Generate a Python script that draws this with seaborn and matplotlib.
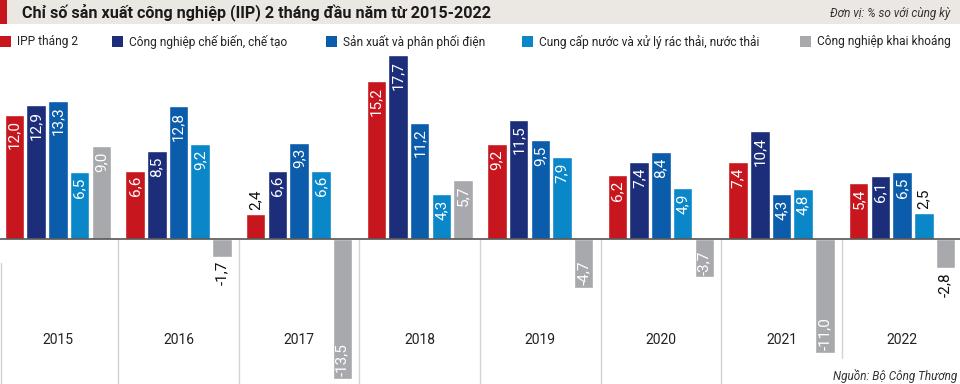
import pandas as pd
import matplotlib.pyplot as plt
import seaborn as sns
from matplotlib.patches import Rectangle

##### Data ###################################################################

years = ['2015', '2016', '2017', '2018', '2019', '2020', '2021', '2022']
series = ['IPP tháng 2', 'Công nghiệp chế biến, chế tạo', 'Sản xuất và phân phối điện',
          'Cung cấp nước và xử lý rác thải, nước thải', 'Công nghiệp khai khoáng']
ipp = [12.0, 6.6, 2.4, 15.2, 9.2, 6.2, 7.4, 5.4]
che_bien = [12.9, 8.5, 6.6, 17.7, 11.5, 7.4, 10.4, 6.1]
dien = [13.3, 12.8, 9.3, 11.2, 9.5, 8.4, 4.3, 6.5]
nuoc = [6.5, 9.2, 6.6, 4.3, 7.9, 4.9, 4.8, 2.5]
khai_khoang = [9.0, -1.7, -13.5, 5.7, -4.7, -3.7, -11.0, -2.8]
colors = ['#c8161e', '#1c2e7a', '#0b5cab', '#0a87c9', '#a8a9ac']

values = [ipp, che_bien, dien, nuoc, khai_khoang]
df = pd.DataFrame({
    'Năm': [y for _ in series for y in years],
    'Nhóm': [s for s in series for _ in years],
    'Giá trị': [v for vals in values for v in vals],
})

##### Plot ###################################################################

sns.set_style('white')
plt.rcParams['font.family'] = ['Roboto', 'DejaVu Sans']

fig = plt.figure(figsize=(9.6, 3.84), dpi=100)
ax = fig.add_axes([0, 0, 1, 1])
ax.patch.set_alpha(0)

sns.barplot(data=df, x='Năm', y='Giá trị', hue='Nhóm', palette=colors,
            width=0.9, gap=0.1, saturation=1, legend=False, ax=ax)

px = 10.37  # pixels per unit
ax.set_xlim(-0.48, 7.48)
ax.set_ylim(-(384 - 239) / px, 239 / px)
ax.axis('off')

# zero line and group separators
ax.axhline(0, color='#555555', lw=1.2, zorder=3)
for i in range(7):
    ymin = -11.5 if i == 6 else -14
    ax.plot([i + 0.5, i + 0.5], [0, ymin], color='#d3d3d3', lw=1, zorder=0)
ax.plot([-0.47, -0.47], [-2.3, -14], color='#d3d3d3', lw=1, zorder=0)

# value labels
for cont, vals in zip(ax.containers, values):
    for bar, v in zip(cont, vals):
        x = bar.get_x() + bar.get_width() / 2
        txt = f'{v:.1f}'.replace('.', ',')
        if abs(v) < 3:
            off = 3 if v > 0 else -3
            ax.annotate(txt, (x, v), xytext=(0, off), textcoords='offset points',
                        rotation=90, ha='center', va='bottom' if v > 0 else 'top',
                        color='#111111', fontsize=11)
        else:
            off = -4 if v > 0 else 2
            ax.annotate(txt, (x, v), xytext=(0, off), textcoords='offset points',
                        rotation=90, ha='center', va='top' if v > 0 else 'bottom',
                        color='white', fontsize=11)

# year labels
for i, y in enumerate(years):
    ax.text(i, (239 - 340) / px, y, ha='center', va='center', fontsize=10, color='#222222')

##### Title, legend, notes ###################################################

fig.add_artist(Rectangle((0, 1 - 24 / 384), 1, 24 / 384, transform=fig.transFigure,
                         facecolor='#ebe8e4', edgecolor='none', zorder=0))
fig.add_artist(Rectangle((0, 1 - 24 / 384), 7 / 960, 24 / 384, transform=fig.transFigure,
                         facecolor='#c8161e', edgecolor='none', zorder=1))
fig.text(22 / 960, 1 - 12 / 384, 'Chỉ số sản xuất công nghiệp (IIP) 2 tháng đầu năm từ 2015-2022',
         ha='left', va='center', fontsize=11.6, fontweight='bold', color='#1a1a1a')
fig.text(950 / 960, 1 - 14 / 384, 'Đơn vị: % so với cùng kỳ', ha='right', va='center',
         fontsize=8.5, style='italic', color='#333333')

legend_x = [0, 112, 326, 522, 800]
for lx, name, c in zip(legend_x, series, colors):
    fig.add_artist(Rectangle((lx / 960, 1 - 47 / 384), 11 / 960, 11 / 384,
                             transform=fig.transFigure, facecolor=c, edgecolor='none'))
    fig.text((lx + 17) / 960, 1 - 42 / 384, name, ha='left', va='center',
             fontsize=8.6, color='#222222')

fig.text(957 / 960, 1 - 376 / 384, 'Nguồn: Bộ Công Thương', ha='right', va='center',
         fontsize=8.5, style='italic', color='#333333')

plt.savefig('out.png', dpi=100)
